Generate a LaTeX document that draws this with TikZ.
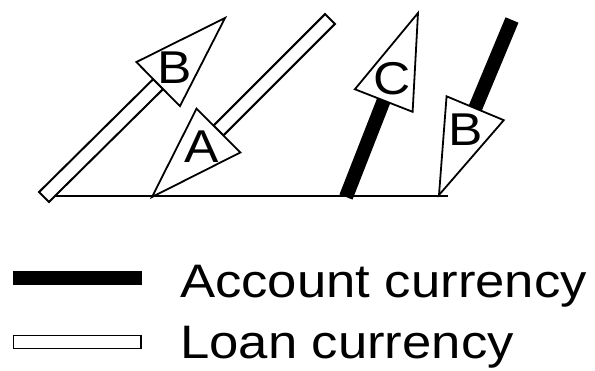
\documentclass[tikz,border=0pt]{standalone}
\usepackage{fontspec}
\setmainfont{Liberation Sans}[FakeStretch=1.12]
\usepackage{tikz}
\usetikzlibrary{calc}

\begin{document}
\begin{tikzpicture}[x=1pt, y=1pt,
    loan/.style={draw, fill=white, line width=2pt},
    acct/.style={draw=none, fill=black},
    head/.style={draw, fill=white, line width=1.8pt, line join=miter},
    lbl/.style={font=\fontsize{46}{46}\selectfont, inner sep=0pt},
    keytext/.style={font=\fontsize{47}{47}\selectfont, inner sep=0pt, anchor=base west}]
    \useasboundingbox (0,0) rectangle (595,370);

    % ends of the four movements
    \coordinate (b1s) at (44,173);  \coordinate (b1t) at (225,352);
    \coordinate (a1s) at (330,351); \coordinate (a1t) at (152,173);
    \coordinate (c1s) at (346,173); \coordinate (c1t) at (418,357);
    \coordinate (b2s) at (512,350); \coordinate (b2t) at (439,175);
    \coordinate (axl) at (46,174);  \coordinate (axr) at (448,174);

    \draw [line width=2.7pt] (axl) -- (axr);

    \foreach \s/\t/\txt/\kind in {b1s/b1t/B/loan, a1s/a1t/A/loan, c1s/c1t/C/acct, b2s/b2t/B/acct} {
        \coordinate (\s-base) at ($(\t)!94pt!(\s)$);
        \path [\kind] ($(\s)!7pt!90:(\s-base)$) -- ($(\s)!7pt!-90:(\s-base)$)
            -- ($(\s-base)!7pt!90:(\s)$) -- ($(\s-base)!7pt!-90:(\s)$) -- cycle;
        \draw [head] ($(\s-base)!31pt!90:(\t)$) -- (\t) -- ($(\s-base)!31pt!-90:(\t)$) -- cycle;
        \node [lbl] (\s-lbl) at ($(\s-base)!0.25!(\t)$) {\txt};
    }

    % key
    \node [acct, minimum width=129pt, minimum height=14.3pt, inner sep=0pt] (acctkey) at (77.2,92.2) {};
    \node [loan, line width=1.5pt, minimum width=127.5pt, minimum height=12.8pt, inner sep=0pt] (loankey) at (77.2,27.9) {};
    \node [keytext] (accttext) at (180,72) {Account currency};
    \node [keytext] (loantext) at (180,12) {Loan currency};
\end{tikzpicture}
\end{document}
